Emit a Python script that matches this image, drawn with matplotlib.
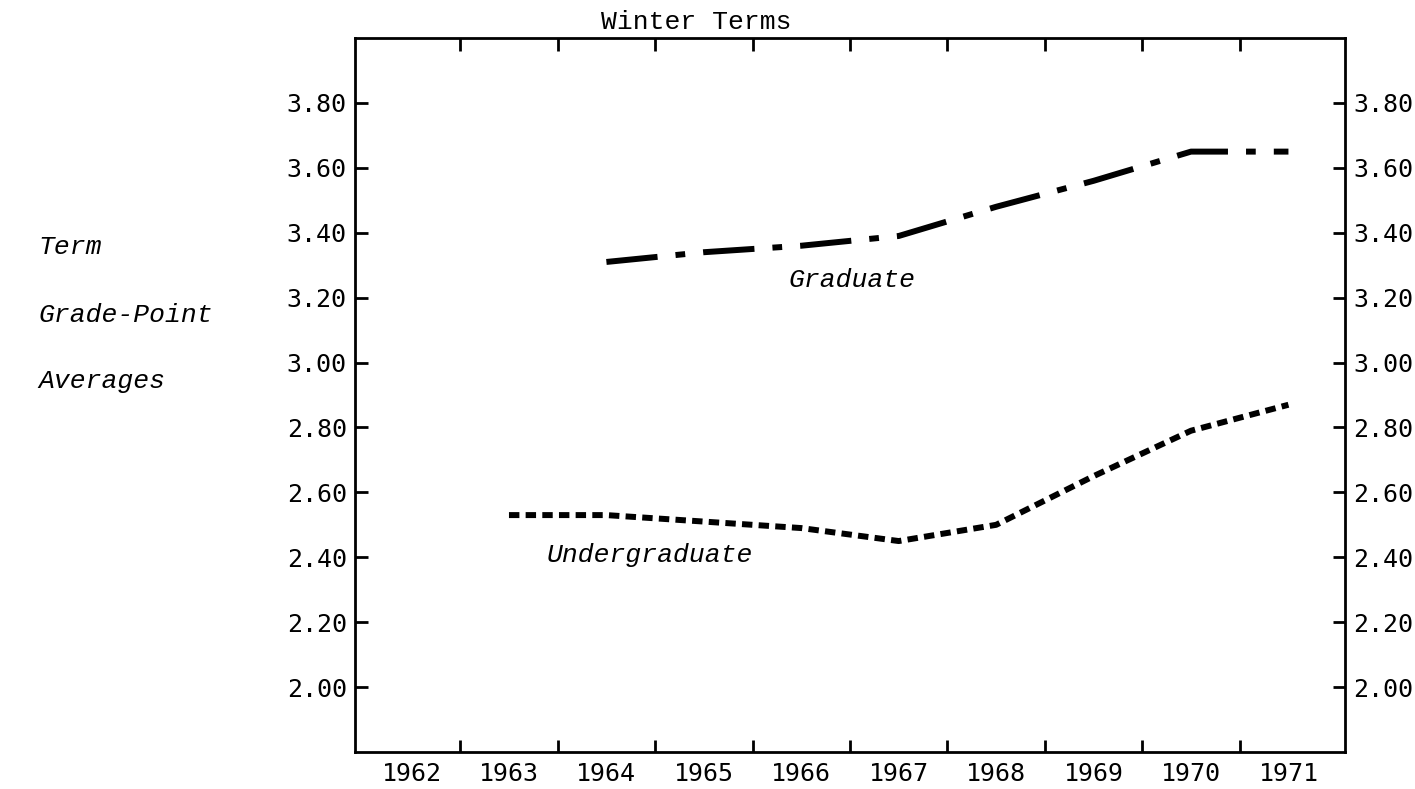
import matplotlib
matplotlib.use("Agg")
import matplotlib.pyplot as plt
from matplotlib.ticker import FixedLocator, NullFormatter, FixedFormatter

years_grad = [1964, 1965, 1966, 1967, 1968, 1969, 1970, 1971]
gpa_grad = [3.31, 3.34, 3.36, 3.39, 3.48, 3.56, 3.65, 3.65]

years_under = [1963, 1964, 1965, 1966, 1967, 1968, 1969, 1970, 1971]
gpa_under = [2.53, 2.53, 2.51, 2.49, 2.45, 2.50, 2.65, 2.79, 2.87]

year_labels = ["1962", "1963", "1964", "1965", "1966", "1967", "1968", "1969", "1970", "1971"]
year_positions = list(range(1962, 1972))
y_ticks = [2.00, 2.20, 2.40, 2.60, 2.80, 3.00, 3.20, 3.40, 3.60, 3.80]
y_labels = ["2.00", "2.20", "2.40", "2.60", "2.80", "3.00", "3.20", "3.40", "3.60", "3.80"]

plt.rcParams['lines.scale_dashes'] = False

fig = plt.figure(figsize=(14.15, 7.89), dpi=100)
ax = fig.add_axes([0.2509, 0.0469, 0.6996, 0.9049])

mono = "DejaVu Sans Mono"
type_font = "Liberation Mono"

ax.plot(years_grad, gpa_grad, color="black", lw=4.3,
        dashes=(37, 13, 7, 13), dash_capstyle="butt", solid_joinstyle="round")
ax.plot(years_under, gpa_under, color="black", lw=4.3,
        dashes=(7.5, 4.5), dash_capstyle="butt", solid_joinstyle="round")

ax.set_xlim(1961.42, 1971.58)
ax.set_ylim(1.80, 4.00)

for s in ax.spines.values():
    s.set_linewidth(2.0)

# x: ticks at half-years, labels at years
half_years = [y + 0.5 for y in year_positions[:-1]]
ax.xaxis.set_major_locator(FixedLocator(half_years))
ax.xaxis.set_major_formatter(NullFormatter())
ax.xaxis.set_minor_locator(FixedLocator(year_positions))
ax.xaxis.set_minor_formatter(FixedFormatter(year_labels))
ax.tick_params(axis="x", which="major", direction="in", length=9, width=2,
               top=True, bottom=True)
ax.tick_params(axis="x", which="minor", length=0, pad=7, labelsize=18)

ax.yaxis.set_major_locator(FixedLocator(y_ticks))
ax.yaxis.set_major_formatter(FixedFormatter(y_labels))
ax.tick_params(axis="y", direction="in", length=9, width=2,
               left=True, right=True, labelleft=True, labelright=True,
               labelsize=18, pad=6)

for lab in ax.get_xticklabels(minor=True):
    lab.set_family(mono)
for t in ax.yaxis.get_major_ticks():
    t.label1.set_family(mono)
    t.label2.set_family(mono)
    t.label2.set_fontsize(18)

ax.text(0.345, 1.005, "Winter Terms", transform=ax.transAxes, ha="center",
        va="bottom", fontsize=19, family=type_font)

ax.text(1966.52, 3.255, "Graduate", ha="center", va="center", fontsize=19,
        family=type_font, style="italic")
ax.text(1964.45, 2.407, "Undergraduate", ha="center", va="center", fontsize=19,
        family=type_font, style="italic")

for txt, ypix in [("Term", 247), ("Grade-Point", 315), ("Averages", 381)]:
    fig.text(38 / 1415, 1 - ypix / 789, txt, ha="left", va="center",
             fontsize=19, family=type_font, style="italic")

fig.savefig("out.png", dpi=100)
